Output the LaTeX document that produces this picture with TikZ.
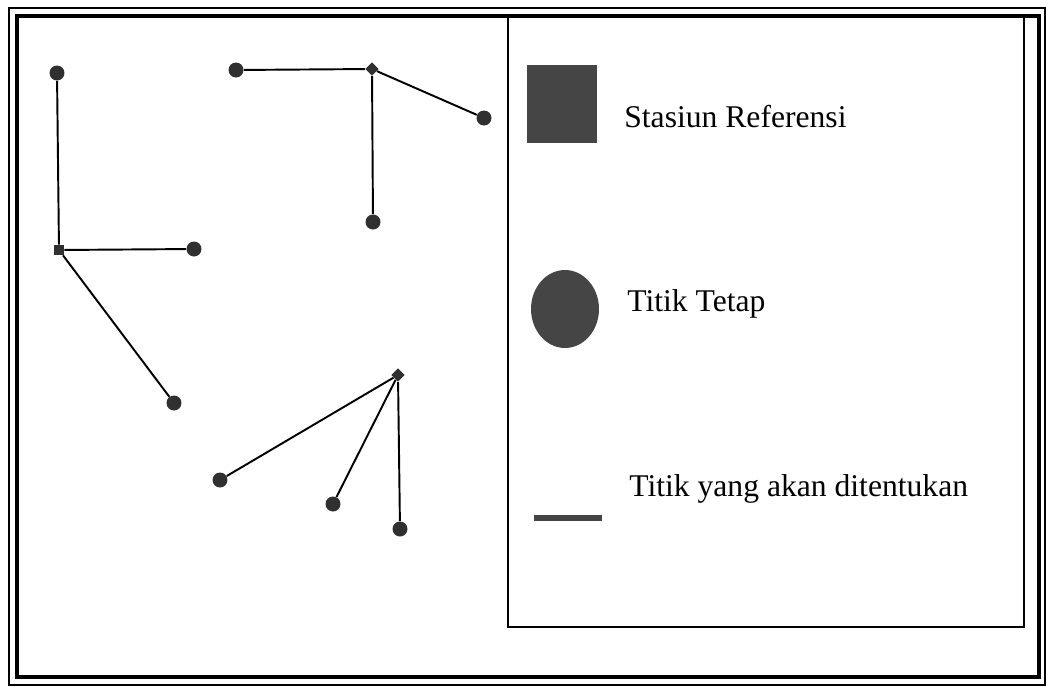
\documentclass[tikz,border=0pt]{standalone}
\usepackage{fontspec}
\setmainfont{Liberation Serif}
\usepackage{tikz}
\usetikzlibrary{positioning,shapes.geometric}
\usepackage{xcolor}
\definecolor{dotgray}{HTML}{303030}
\definecolor{keygray}{HTML}{454545}
\tikzset{
	fixed pt/.style={circle, fill=dotgray, inner sep=0pt, minimum size=0.3cm},
	ref sq/.style={rectangle, fill=dotgray, inner sep=0pt, minimum size=0.2cm},
	ref dm/.style={diamond, fill=dotgray, inner sep=0pt, minimum size=0.27cm},
	link/.style={line width=1.1pt, black},
	key text/.style={anchor=base west, inner sep=0pt, font=\fontsize{18}{18}\selectfont}
}

\begin{document}
\begin{tikzpicture}[x=0.02cm, y=-0.02cm]
	\useasboundingbox (0, 0) rectangle (1046, 687);
	
	% frame
	\draw[line width=0.85pt] (9, 8) rectangle (1045, 685);
	\draw[line width=2.8pt] (17, 16) rectangle (1039, 677);
	\draw[line width=1.1pt] (508, 16) -- (508, 627) -- (1024, 627) -- (1024, 16);
	
	% first group
	\node[fixed pt] (a1) at (57, 73) {};
	\node[ref sq] (s1) at (59, 250) {};
	\node[fixed pt] (a2) at (194, 249) {};
	\node[fixed pt] (a3) at (174, 403) {};
	\draw[link] (a1) -- (s1);
	\draw[link] (s1) -- (a2);
	\draw[link] (s1) -- (a3);
	
	% second group
	\node[fixed pt] (b1) at (236, 70) {};
	\node[ref dm] (d1) at (372, 69) {};
	\node[fixed pt] (b2) at (484, 118) {};
	\node[fixed pt] (b3) at (373, 222) {};
	\draw[link] (b1) -- (d1);
	\draw[link] (d1) -- (b2);
	\draw[link] (d1) -- (b3);
	
	% third group
	\node[ref dm] (d2) at (398, 375) {};
	\node[fixed pt] (c1) at (220, 480) {};
	\node[fixed pt] (c2) at (333, 504) {};
	\node[fixed pt] (c3) at (400, 529) {};
	\draw[link] (d2) -- (c1);
	\draw[link] (d2) -- (c2);
	\draw[link] (d2) -- (c3);
	
	% legend
	\node[rectangle, fill=keygray, inner sep=0pt, minimum width=1.4cm, minimum height=1.58cm] (ksq) at (562, 104) {};
	\node[key text] (ksqtxt) at (624, 127) {Stasiun Referensi};
	\node[ellipse, fill=keygray, inner sep=0pt, minimum width=1.36cm, minimum height=1.56cm] (kcirc) at (565, 309) {};
	\node[key text] (kcirctxt) at (627, 311) {Titik Tetap};
	\coordinate (kl) at (534, 518);
	\coordinate (kr) at (602, 518);
	\draw[line width=3.9pt, keygray] (kl) -- (kr);
	\node[key text] (klinetxt) at (629, 496) {Titik yang akan ditentukan};

\end{tikzpicture}
\end{document}
